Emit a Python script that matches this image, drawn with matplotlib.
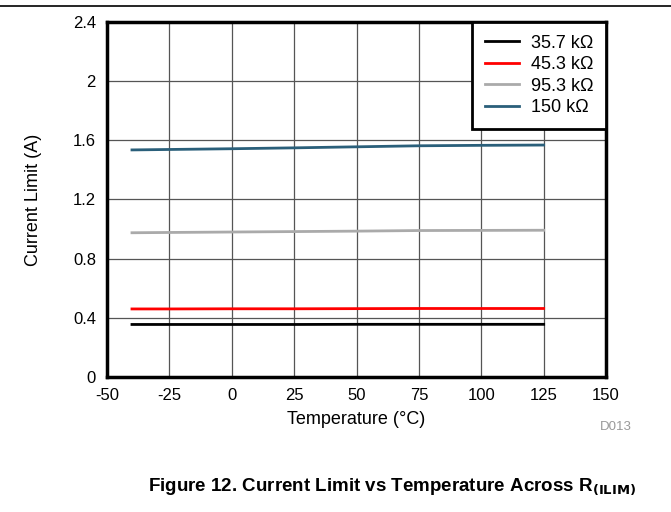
import numpy as np
import matplotlib.pyplot as plt
from matplotlib.lines import Line2D

plt.rcParams['font.family'] = ['Liberation Sans', 'DejaVu Sans']
plt.rcParams['axes.unicode_minus'] = False

# data
temp = [-40, -25, 0, 25, 50, 75, 100, 125]
i_35k7 = [0.355, 0.355, 0.355, 0.355, 0.356, 0.356, 0.356, 0.356]
i_45k3 = [0.460, 0.460, 0.461, 0.461, 0.462, 0.463, 0.463, 0.463]
i_95k3 = [0.975, 0.977, 0.980, 0.983, 0.986, 0.990, 0.991, 0.992]
i_150k = [1.535, 1.538, 1.543, 1.549, 1.556, 1.563, 1.566, 1.568]

labels = ['35.7 kΩ', '45.3 kΩ', '95.3 kΩ', '150 kΩ']
colors = ['#000000', '#ff0000', '#aaaaaa', '#2a5f7a']
series = [i_35k7, i_45k3, i_95k3, i_150k]

xticks = [-50, -25, 0, 25, 50, 75, 100, 125, 150]
yticks = [0, 0.4, 0.8, 1.2, 1.6, 2.0, 2.4]
ytick_labels = ['0', '0.4', '0.8', '1.2', '1.6', '2', '2.4']

fig = plt.figure(figsize=(6.71, 5.12), dpi=100)
ax = fig.add_axes([0.1595, 0.2637, 0.7437, 0.6934])

for y, c, lab in zip(series, colors, labels):
    ax.plot(temp, y, color=c, lw=2, label=lab, zorder=3)

ax.set_xlim(-50, 150)
ax.set_ylim(0, 2.4)
ax.set_xticks(xticks)
ax.set_yticks(yticks)
ax.set_yticklabels(ytick_labels)
ax.tick_params(length=0, labelsize=12)
ax.tick_params(axis='x', pad=8)
ax.tick_params(axis='y', pad=8)
ax.grid(True, color='#555555', lw=0.9)
ax.set_axisbelow(True)
for s in ax.spines.values():
    s.set_linewidth(2.5)

ax.set_xlabel('Temperature (°C)', fontsize=13)
ax.xaxis.set_label_coords(0.5, -0.095)
ax.set_ylabel('Current Limit (A)', fontsize=13)
ax.yaxis.set_label_coords(-0.13, 0.5)

leg = ax.legend(loc='upper right', fontsize=13, frameon=True, fancybox=False,
                borderaxespad=0, handlelength=1.9, labelspacing=0.25,
                borderpad=0.7, handletextpad=0.65)
leg.get_frame().set_edgecolor('black')
leg.get_frame().set_linewidth(2.0)
leg.get_frame().set_alpha(1)

fig.add_artist(Line2D([0, 1], [1 - 6 / 512, 1 - 6 / 512], color='black', lw=1.2))
fig.text(0.894, 0.166, 'D013', fontsize=9.5, color='#999999', ha='left', va='center')
fig.text(0.584, 0.049, 'Figure 12. Current Limit vs Temperature Across R$_{\\mathbf{(ILIM)}}$',
         fontsize=13.5, fontweight='bold', ha='center', va='center')

fig.savefig('out.png', dpi=100)
